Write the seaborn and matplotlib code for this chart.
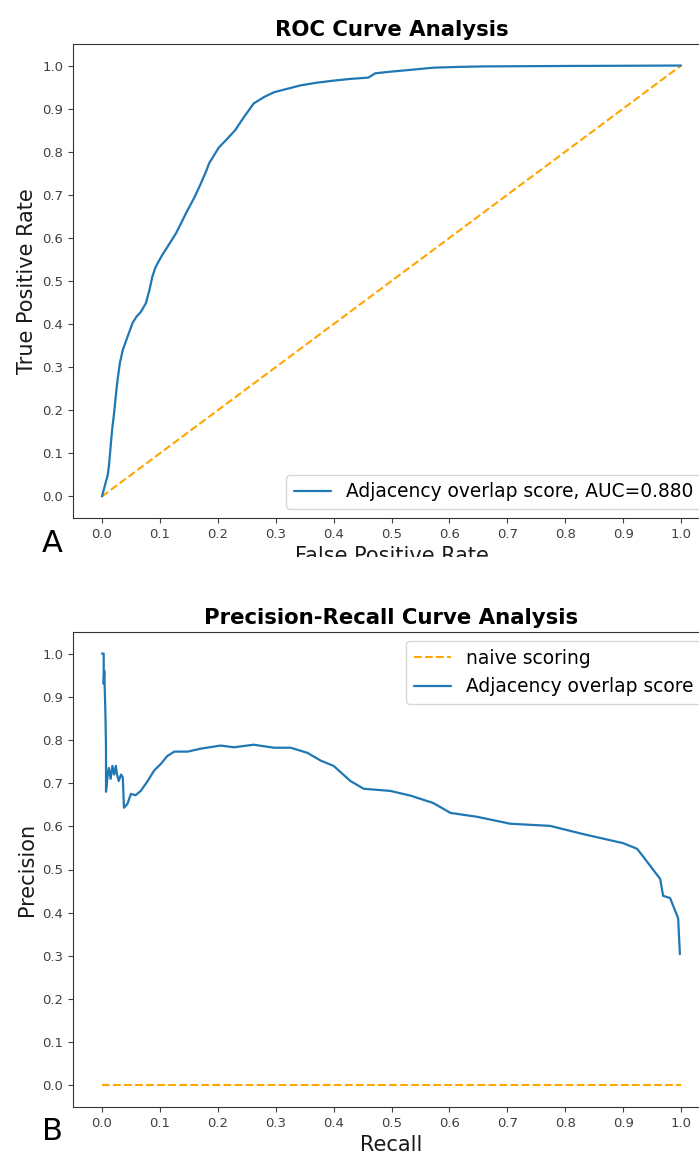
import numpy as np
import pandas as pd
import matplotlib
matplotlib.use("Agg")
import matplotlib.pyplot as plt
from matplotlib.patches import Rectangle
import seaborn as sns

# ROC curve
fpr = [0.0, 0.004, 0.007, 0.010, 0.012, 0.014, 0.016, 0.018, 0.021, 0.024,
       0.027, 0.031, 0.036, 0.044, 0.053, 0.060, 0.067, 0.076, 0.082, 0.087,
       0.092, 0.096, 0.104, 0.113, 0.128, 0.137, 0.145, 0.160, 0.171, 0.180,
       0.185, 0.195, 0.202, 0.215, 0.230, 0.245, 0.262, 0.280, 0.297, 0.320,
       0.343, 0.370, 0.400, 0.429, 0.460, 0.472, 0.500, 0.533, 0.572, 0.620,
       0.659, 0.800, 1.0]
tpr = [0.0, 0.020, 0.035, 0.050, 0.070, 0.100, 0.132, 0.160, 0.194, 0.235,
       0.271, 0.310, 0.340, 0.370, 0.403, 0.418, 0.428, 0.449, 0.479, 0.510,
       0.530, 0.541, 0.560, 0.579, 0.611, 0.635, 0.657, 0.695, 0.727, 0.755,
       0.773, 0.795, 0.810, 0.828, 0.850, 0.880, 0.912, 0.927, 0.938, 0.946,
       0.954, 0.960, 0.965, 0.969, 0.972, 0.982, 0.986, 0.990, 0.995, 0.997,
       0.998, 0.999, 1.0]
chance = [0.0, 1.0]
auc_label = "Adjacency overlap score, AUC=0.880"

# Precision-recall curve
recall = [0.0, 0.003, 0.003, 0.004, 0.005, 0.006, 0.007, 0.007, 0.010, 0.012,
          0.015, 0.018, 0.021, 0.024, 0.026, 0.029, 0.033, 0.036, 0.038, 0.044,
          0.050, 0.058, 0.067, 0.079, 0.090, 0.102, 0.113, 0.125, 0.148, 0.171,
          0.205, 0.228, 0.262, 0.297, 0.326, 0.355, 0.378, 0.400, 0.429, 0.452,
          0.498, 0.533, 0.572, 0.602, 0.648, 0.705, 0.774, 0.831, 0.900, 0.924,
          0.934, 0.964, 0.969, 0.981, 0.990, 0.995, 0.998]
precision = [1.0, 1.0, 0.93, 0.96, 0.91, 0.86, 0.78, 0.68, 0.72, 0.735,
             0.71, 0.74, 0.72, 0.74, 0.72, 0.705, 0.72, 0.713, 0.643, 0.652,
             0.675, 0.672, 0.682, 0.705, 0.729, 0.745, 0.763, 0.773, 0.773, 0.780,
             0.787, 0.783, 0.789, 0.782, 0.782, 0.770, 0.752, 0.740, 0.705, 0.687,
             0.682, 0.671, 0.654, 0.631, 0.622, 0.606, 0.601, 0.582, 0.561, 0.548,
             0.531, 0.478, 0.439, 0.434, 0.404, 0.387, 0.304]
naive_x = [0.0, 1.0]
naive_y = [0.0, 0.0]

sns.set_style("ticks")
plt.rcParams['font.family'] = ['DejaVu Sans']
plt.rcParams.update({
    'axes.edgecolor': '.2', 'xtick.color': '.25', 'ytick.color': '.25',
    'text.color': 'black', 'axes.labelcolor': '.1',
    'xtick.major.size': 3.5, 'ytick.major.size': 3.5,
    'xtick.labelsize': 9.5, 'ytick.labelsize': 9.5,
})

W, H = 699, 1153
fig = plt.figure(figsize=(W / 100, H / 100), dpi=100)

def box(l, t, r, b):
    return [l / W, 1 - b / H, (r - l) / W, (b - t) / H]

BLUE = '#1f77b4'
ORANGE = 'orange'
ticks = np.arange(0, 1.01, 0.1)

# --- A: ROC ---
ax1 = fig.add_axes(box(73, 44, 710, 518))
roc = pd.DataFrame({'fpr': fpr, 'tpr': tpr})
sns.lineplot(x=chance, y=chance, ax=ax1, color=ORANGE, linestyle='--',
             linewidth=1.5, estimator=None, sort=False)
sns.lineplot(data=roc, x='fpr', y='tpr', ax=ax1, color=BLUE, linewidth=1.6,
             estimator=None, sort=False, label=auc_label)
ax1.set_xlim(-0.05, 1.05)
ax1.set_ylim(-0.05, 1.05)
ax1.set_xticks(ticks)
ax1.set_yticks(ticks)
ax1.set_title("ROC Curve Analysis", fontsize=15.3, fontweight='bold')
ax1.set_xlabel("False Positive Rate", fontsize=15)
ax1.set_ylabel("True Positive Rate", fontsize=15)
ax1.legend(loc='lower right', fontsize=13.4, frameon=True)

# --- B: Precision-Recall ---
ax2 = fig.add_axes(box(73, 632, 710, 1107))
pr = pd.DataFrame({'recall': recall, 'precision': precision})
sns.lineplot(x=naive_x, y=naive_y, ax=ax2, color=ORANGE, linestyle='--',
             linewidth=1.5, estimator=None, sort=False, label="naive scoring")
sns.lineplot(data=pr, x='recall', y='precision', ax=ax2, color=BLUE,
             linewidth=1.6, estimator=None, sort=False,
             label="Adjacency overlap score")
ax2.set_xlim(-0.05, 1.05)
ax2.set_ylim(-0.05, 1.05)
ax2.set_xticks(ticks)
ax2.set_yticks(ticks)
ax2.set_title("Precision-Recall Curve Analysis", fontsize=15.3, fontweight='bold')
ax2.set_xlabel("Recall", fontsize=15)
ax2.set_ylabel("Precision", fontsize=15)
ax2.legend(loc='upper right', fontsize=13.4, frameon=True)

# the source picture cuts off the lower part of the first x label
fig.patches.append(Rectangle((0, 1 - 600 / H), 1, (600 - 557) / H,
                             transform=fig.transFigure, facecolor='white',
                             edgecolor='none', zorder=10))

fig.text(42 / W, 1 - 552 / H, "A", fontsize=22, ha='left', va='baseline')
fig.text(42 / W, 1 - 1140 / H, "B", fontsize=22, ha='left', va='baseline')

fig.savefig("out.png", dpi=100)
